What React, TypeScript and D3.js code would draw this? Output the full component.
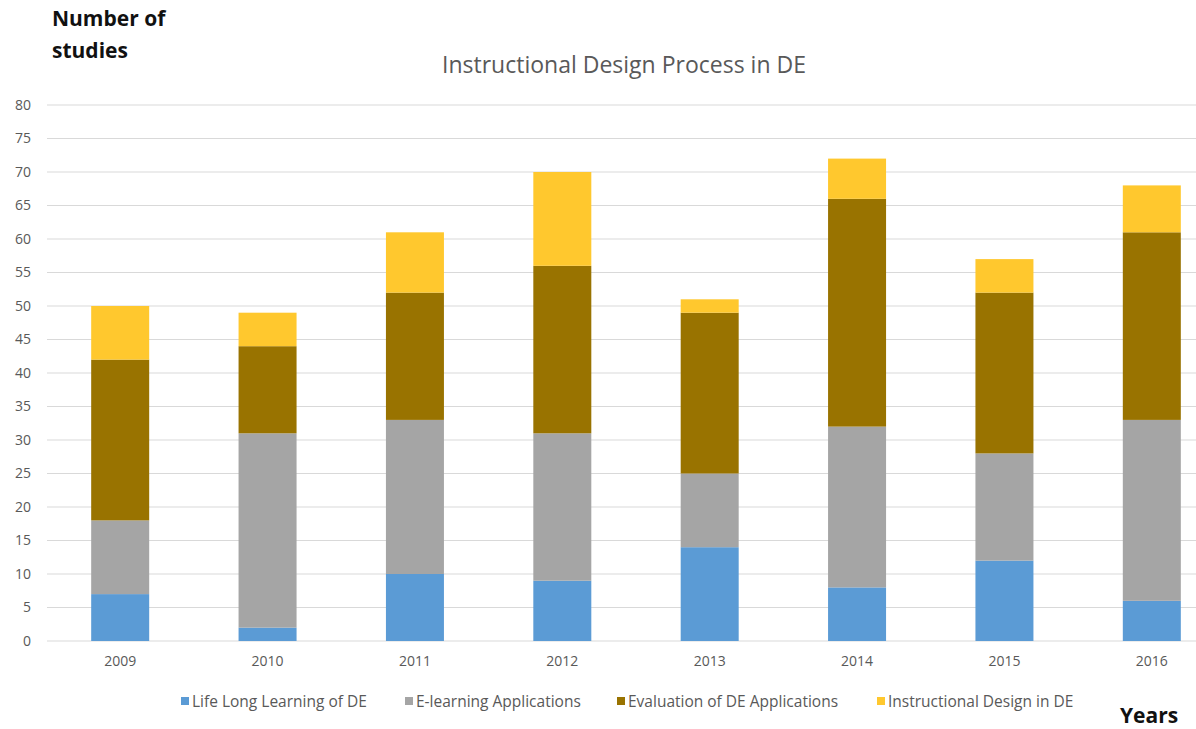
import React, { useEffect, useRef } from "react";
import * as d3 from "d3";

const years = ["2009", "2010", "2011", "2012", "2013", "2014", "2015", "2016"];
const lifeLong = [7, 2, 10, 9, 14, 8, 12, 6];
const eLearning = [11, 29, 23, 22, 11, 24, 16, 27];
const evaluation = [24, 13, 19, 25, 24, 34, 24, 28];
const instructional = [8, 5, 9, 14, 2, 6, 5, 7];
const seriesNames = [
  "Life Long Learning of DE",
  "E-learning Applications",
  "Evaluation of DE Applications",
  "Instructional Design in DE",
];
const colors = ["#5b9bd5", "#a5a5a5", "#997300", "#ffc82e"];
const yTicks = d3.range(0, 81, 5);

export default function App() {
  const ref = useRef<SVGSVGElement>(null);
  useEffect(() => {
    document.body.style.margin = "0";
    const svg = d3.select(ref.current);
    svg.selectAll("*").remove();
    const font = "'Open Sans', sans-serif";

    const x = d3.scaleBand().domain(years).range([46.5, 1225.5]).paddingInner(0.4).paddingOuter(0.2);
    const y = d3.scaleLinear().domain([0, 80]).range([641, 105]);

    const rows = years.map((yr, i) => ({
      year: yr,
      s0: lifeLong[i],
      s1: eLearning[i],
      s2: evaluation[i],
      s3: instructional[i],
    }));
    const stack = d3.stack<any>().keys(["s0", "s1", "s2", "s3"]);
    const stacked = stack(rows);

    svg.append("g")
      .selectAll("line")
      .data(yTicks)
      .join("line")
      .attr("x1", 47)
      .attr("x2", 1196)
      .attr("y1", (d) => y(d))
      .attr("y2", (d) => y(d))
      .attr("stroke", "#d9d9d9")
      .attr("stroke-width", 1);

    svg.append("g")
      .selectAll("text")
      .data(yTicks)
      .join("text")
      .attr("x", 31)
      .attr("y", (d) => y(d))
      .attr("dy", "0.35em")
      .attr("text-anchor", "end")
      .attr("font-family", font)
      .attr("font-size", 14)
      .attr("fill", "#595959")
      .text((d) => d);

    const bw = 58;
    stacked.forEach((layer, li) => {
      svg.append("g")
        .selectAll("rect")
        .data(layer)
        .join("rect")
        .attr("x", (d: any) => x(d.data.year)! + x.bandwidth() / 2 - bw / 2)
        .attr("width", bw)
        .attr("y", (d: any) => y(d[1]))
        .attr("height", (d: any) => y(d[0]) - y(d[1]))
        .attr("fill", colors[li]);
    });

    svg.append("g")
      .selectAll("text")
      .data(years)
      .join("text")
      .attr("x", (d) => x(d)! + x.bandwidth() / 2)
      .attr("y", 666)
      .attr("text-anchor", "middle")
      .attr("font-family", font)
      .attr("font-size", 14)
      .attr("fill", "#595959")
      .text((d) => d);

    svg.append("text")
      .attr("x", 624)
      .attr("y", 73)
      .attr("text-anchor", "middle")
      .attr("font-family", font)
      .attr("font-size", 23)
      .attr("fill", "#595959")
      .text("Instructional Design Process in DE");

    const bold = (t: string, xx: number, yy: number) =>
      svg.append("text")
        .attr("x", xx)
        .attr("y", yy)
        .attr("font-family", font)
        .attr("font-size", 21)
        .attr("font-weight", "bold")
        .attr("fill", "#111")
        .text(t);
    bold("Number of", 52, 26);
    bold("studies", 52, 58);
    bold("Years", 1120, 723);

    const legendX = [181, 405, 617, 877];
    seriesNames.forEach((name, i) => {
      svg.append("rect")
        .attr("x", legendX[i])
        .attr("y", 697)
        .attr("width", 8)
        .attr("height", 8)
        .attr("fill", colors[i]);
      svg.append("text")
        .attr("x", legendX[i] + 11)
        .attr("y", 707)
        .attr("font-family", font)
        .attr("font-size", 15.5)
        .attr("fill", "#595959")
        .text(name);
    });
  }, []);
  return <svg ref={ref} width={1196} height={729} style={{ display: "block", background: "#fff" }} />;
}
